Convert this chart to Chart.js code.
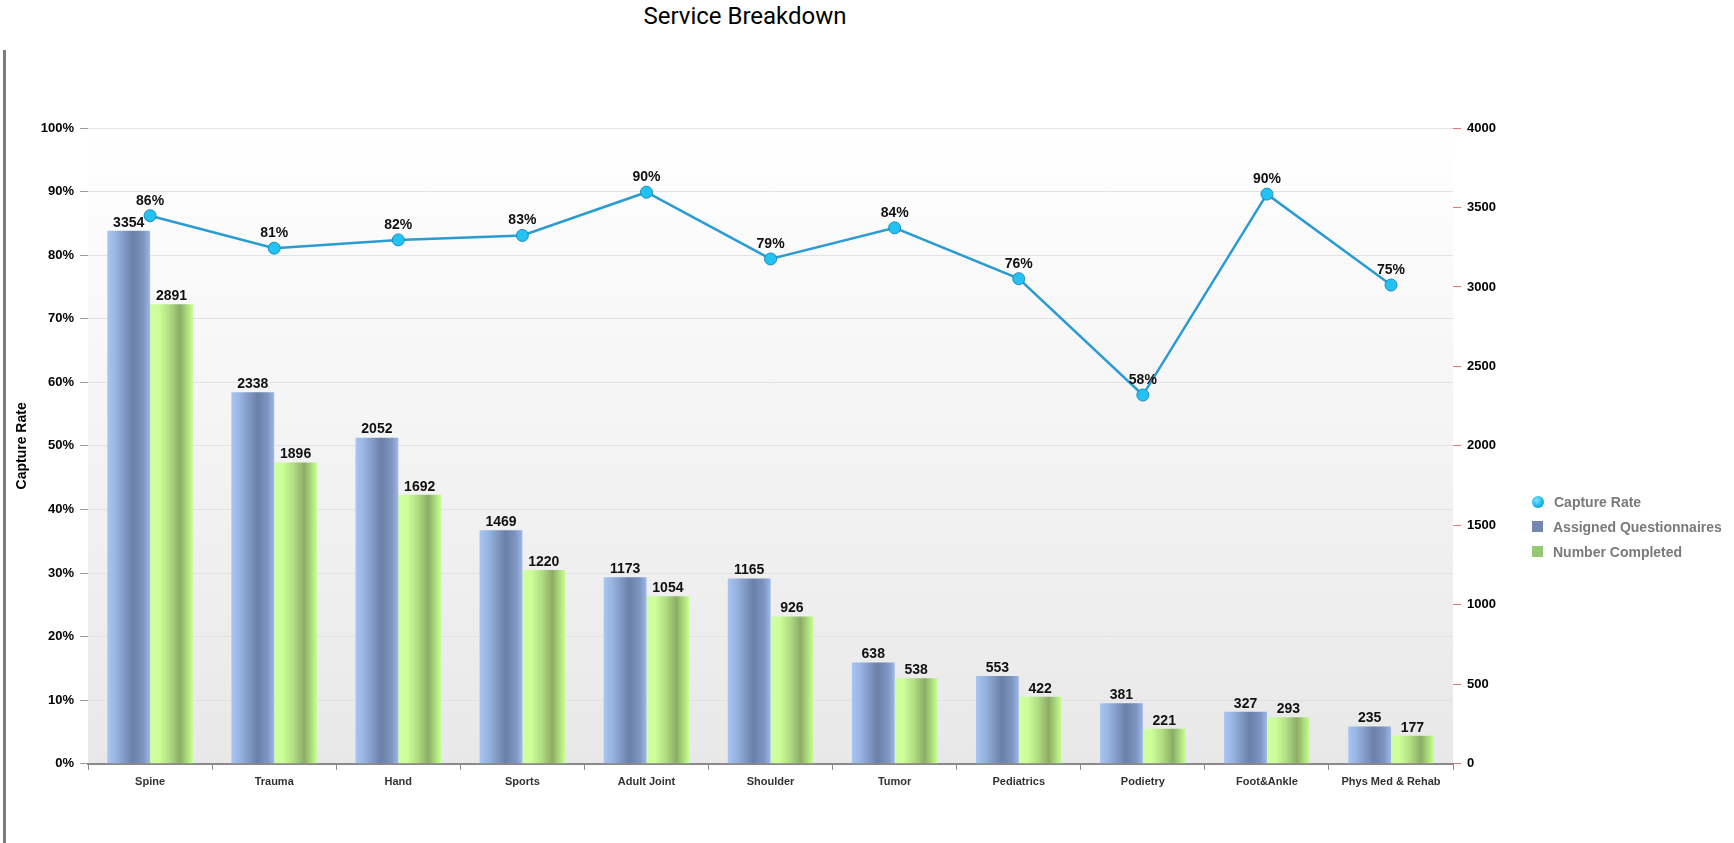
<!DOCTYPE html>
<html>
<head>
<meta charset="utf-8">
<title>Service Breakdown</title>
<script src="https://cdn.jsdelivr.net/npm/chart.js@4.4.1/dist/chart.umd.min.js"></script>
<style>
    html, body { margin: 0; padding: 0; background: #fff; }
    #pagina { position: relative; width: 1734px; height: 843px; overflow: hidden; }
    #titulo {
        position: absolute; left: 0; top: 0; width: 1490px;
        text-align: center; font: 24px Roboto, sans-serif; line-height: 32px; color: #000;
    }
    #borda { position: absolute; left: 3px; top: 50px; bottom: 0; width: 3px; background: #7d7d7d; }
    #caixa { position: absolute; left: 0; top: 0; width: 1734px; height: 843px; }
    #legenda {
        position: absolute; left: 1532px; top: 489px;
        font: bold 14px "Liberation Sans", Arial, sans-serif; color: #7a7a7a;
    }
    .legenda-item { height: 25px; display: flex; align-items: center; white-space: nowrap; }
    .legenda-cor { width: 11px; height: 11px; margin-right: 10px; }
</style>
</head>
<body>
<div id="pagina">
    <div id="titulo">Service Breakdown</div>
    <div id="borda"></div>
    <div id="caixa"><canvas id="graficoServicos" width="1734" height="843"></canvas></div>
    <div id="legenda"></div>
</div>
<script>
const categorias = ['Spine', 'Trauma', 'Hand', 'Sports', 'Adult Joint', 'Shoulder', 'Tumor', 'Pediatrics', 'Podietry', 'Foot&Ankle', 'Phys Med & Rehab'];
const questionariosAtribuidos = [3354, 2338, 2052, 1469, 1173, 1165, 638, 553, 381, 327, 235];
const numeroConcluido = [2891, 1896, 1692, 1220, 1054, 926, 538, 422, 221, 293, 177];
const taxaCaptura = [86.2, 81.1, 82.4, 83.1, 89.9, 79.4, 84.3, 76.3, 58.0, 89.6, 75.3];
const ticksPercentual = [0, 10, 20, 30, 40, 50, 60, 70, 80, 90, 100];
const ticksQuantidade = [0, 500, 1000, 1500, 2000, 2500, 3000, 3500, 4000];

(function () {
    const canvas = document.getElementById('graficoServicos');
    const fonte = '"Liberation Sans", Arial, sans-serif';
    const larguraCategoria = 0.69;

    const paradasAzul = [
        [0, '#a8c6f2'], [0.2, '#98b4e2'], [0.6, '#6a80a8'], [0.85, '#7f96c2'], [1, '#9cb8e8']
    ];
    const paradasVerde = [
        [0, '#d2fca4'], [0.2, '#ccff99'], [0.45, '#b0de82'], [0.7, '#8cac66'], [0.9, '#b4e680'], [1, '#c8ff92']
    ];

    function preenchimentoBarra(paradas, lado, corSolida) {
        return function (ctx) {
            const chart = ctx.chart;
            const escala = chart.scales.x;
            if (!chart.chartArea || !escala || ctx.dataIndex === undefined) {
                return corSolida;
            }
            const centro = escala.getPixelForValue(ctx.dataIndex);
            const meia = (escala.width / categorias.length) * larguraCategoria / 2;
            const inicio = lado === 0 ? centro - meia : centro;
            const gradiente = chart.ctx.createLinearGradient(inicio, 0, inicio + meia, 0);
            paradas.forEach(function (p) {
                gradiente.addColorStop(p[0], p[1]);
            });
            return gradiente;
        };
    }

    const fundoPlot = {
        id: 'fundoPlot',
        beforeDraw: function (chart) {
            const area = chart.chartArea;
            const c = chart.ctx;
            const g = c.createLinearGradient(0, area.top, 0, area.bottom);
            g.addColorStop(0, '#ffffff');
            g.addColorStop(1, '#e8e8e8');
            c.save();
            c.fillStyle = g;
            c.fillRect(area.left, area.top, area.right - area.left, area.bottom - area.top);
            c.restore();
        }
    };

    const rotulosValores = {
        id: 'rotulosValores',
        afterDatasetsDraw: function (chart) {
            const c = chart.ctx;
            c.save();
            c.fillStyle = '#111';
            c.font = 'bold 14px ' + fonte;
            c.textAlign = 'center';
            c.textBaseline = 'bottom';
            chart.data.datasets.forEach(function (ds, i) {
                const meta = chart.getDatasetMeta(i);
                meta.data.forEach(function (el, j) {
                    if (ds.type === 'line') {
                        c.fillText(Math.round(ds.data[j]) + '%', el.x, el.y - 8);
                    } else {
                        c.fillText(String(ds.data[j]), el.x, el.y - 1);
                    }
                });
            });
            c.restore();
        }
    };

    const grafico = new Chart(canvas, {
        data: {
            labels: categorias,
            datasets: [
                {
                    type: 'line',
                    label: 'Capture Rate',
                    data: taxaCaptura,
                    yAxisID: 'y',
                    order: 0,
                    borderColor: '#2b9bd3',
                    borderWidth: 2.5,
                    tension: 0,
                    pointRadius: 6,
                    pointBackgroundColor: '#22c2f2',
                    pointBorderColor: '#1a8cc4',
                    pointBorderWidth: 1,
                    legendCor: '#22c2f2'
                },
                {
                    type: 'bar',
                    label: 'Assigned Questionnaires',
                    data: questionariosAtribuidos,
                    yAxisID: 'y2',
                    order: 1,
                    backgroundColor: preenchimentoBarra(paradasAzul, 0, '#7388b0'),
                    categoryPercentage: larguraCategoria,
                    barPercentage: 1,
                    legendCor: '#7388b0'
                },
                {
                    type: 'bar',
                    label: 'Number Completed',
                    data: numeroConcluido,
                    yAxisID: 'y2',
                    order: 1,
                    backgroundColor: preenchimentoBarra(paradasVerde, 1, '#94c873'),
                    categoryPercentage: larguraCategoria,
                    barPercentage: 1,
                    legendCor: '#94c873'
                }
            ]
        },
        options: {
            responsive: false,
            animation: false,
            layout: {
                padding: { left: 10, right: 232, top: 128, bottom: 48 }
            },
            plugins: {
                legend: { display: false },
                tooltip: { enabled: false }
            },
            scales: {
                x: {
                    offset: true,
                    grid: {
                        display: true,
                        offset: true,
                        drawOnChartArea: false,
                        tickLength: 6,
                        color: '#8a8a8a'
                    },
                    border: { display: true, color: '#8a8a8a', width: 2 },
                    ticks: {
                        color: '#333',
                        font: { family: fonte, size: 11, weight: 'bold' },
                        padding: 6,
                        maxRotation: 0,
                        autoSkip: false
                    }
                },
                y: {
                    position: 'left',
                    min: 0,
                    max: 100,
                    afterBuildTicks: function (axis) {
                        axis.ticks = ticksPercentual.map(function (v) { return { value: v }; });
                    },
                    grid: {
                        color: '#e2e2e2',
                        tickColor: '#9a9a9a',
                        tickLength: 8
                    },
                    border: { display: false },
                    ticks: {
                        color: '#000',
                        font: { family: fonte, size: 13, weight: 'bold' },
                        padding: 6,
                        callback: function (v) { return v + '%'; }
                    },
                    title: {
                        display: true,
                        text: 'Capture Rate',
                        color: '#000',
                        font: { family: fonte, size: 14, weight: 'bold' },
                        padding: { top: 4, bottom: 4 }
                    }
                },
                y2: {
                    position: 'right',
                    min: 0,
                    max: 4000,
                    afterBuildTicks: function (axis) {
                        axis.ticks = ticksQuantidade.map(function (v) { return { value: v }; });
                    },
                    grid: {
                        drawOnChartArea: false,
                        tickColor: '#e07a7a',
                        tickLength: 8
                    },
                    border: { display: false },
                    ticks: {
                        color: '#000',
                        font: { family: fonte, size: 13, weight: 'bold' },
                        padding: 6,
                        callback: function (v) { return String(v); }
                    }
                }
            }
        },
        plugins: [fundoPlot, rotulosValores]
    });

    const legenda = document.getElementById('legenda');
    grafico.data.datasets.forEach(function (ds) {
        const item = document.createElement('div');
        item.className = 'legenda-item';
        const cor = document.createElement('span');
        cor.className = 'legenda-cor';
        cor.style.background = ds.legendCor;
        if (ds.type === 'line') {
            cor.style.borderRadius = '50%';
            cor.style.width = '12px';
            cor.style.height = '12px';
            cor.style.background = 'radial-gradient(circle at 40% 35%, #7fe4ff, #10b4ea 60%, #0b8cc4)';
        }
        item.appendChild(cor);
        item.appendChild(document.createTextNode(ds.label));
        legenda.appendChild(item);
    });
})();
</script>
</body>
</html>
